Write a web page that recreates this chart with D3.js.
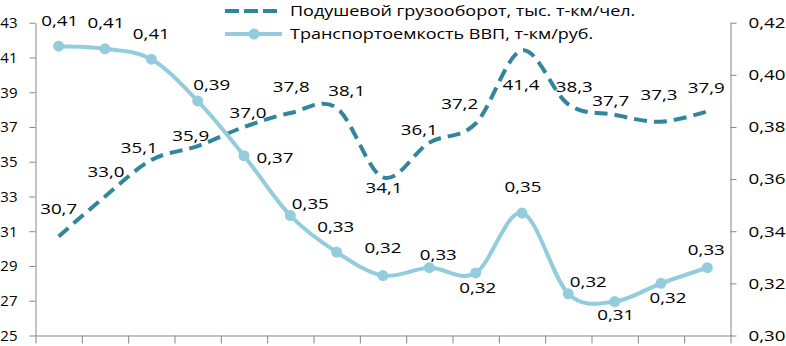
<!DOCTYPE html>
<html>
<head>
<meta charset="utf-8">
<script src="https://cdn.jsdelivr.net/npm/d3@7"></script>
<style>
  body { margin: 0; background: #fff; }
  text { font-family: "Open Sans", sans-serif; fill: #000; }
</style>
</head>
<body>
<div id="chart"></div>
<script>
// chart data
var years = [2000, 2001, 2002, 2003, 2004, 2005, 2006, 2007, 2008, 2009, 2010, 2011, 2012, 2013, 2014];
var freightPerCapita = [30.7, 33.0, 35.1, 35.9, 37.0, 37.8, 38.1, 34.1, 36.1, 37.2, 41.4, 38.3, 37.7, 37.3, 37.9];
var gdpIntensity = [0.411, 0.410, 0.406, 0.390, 0.369, 0.346, 0.332, 0.323, 0.326, 0.324, 0.347, 0.316, 0.313, 0.320, 0.326];
var leftTicks = [25, 27, 29, 31, 33, 35, 37, 39, 41, 43];
var rightTicks = [0.30, 0.32, 0.34, 0.36, 0.38, 0.40, 0.42];
var seriesNames = ["Подушевой грузооборот, тыс. т-км/чел.", "Транспортоемкость ВВП, т-км/руб."];

// where each value label sits relative to its point (label centre, px)
var freightLabelShift = [[0, -27], [1, -24], [-12, -12], [-7, -10], [4, -14], [1, -26], [10, -17], [1, 11],
                         [-10, -13], [-16, -19], [-1, 34], [6, -17], [-4, -14], [-2, -27], [-1, -23]];
var intensityLabelShift = [[1, -25], [1, -26], [0, -25], [14, -16], [31, 2], [20, -12], [-1, -25], [0, -28],
                           [9, -13], [2, 15], [1, -26], [20, -12], [1, 13], [7, 15], [-1, -18]];

var w = 786, h = 346;
var darkColor = "#31859c", lightColor = "#93cddd", axisColor = "#868686";
var stretch = 1.25; // the original text is wider than our fonts

function comma(s) { return s.replace(".", ","); }

var svg = d3.select("#chart").append("svg")
    .attr("width", w)
    .attr("height", h);

var xscale = d3.scaleBand().domain(years).range([35.5, 730.5]).padding(0);
var xedge = d3.scaleLinear().domain([0, years.length]).range([35.5, 730.5]);
var yleft = d3.scaleLinear().domain([25, 43]).range([335.5, 22.7]);
var yright = d3.scaleLinear().domain([0.30, 0.42]).range([335.5, 22.7]);

function cx(d, i) { return xscale(years[i]) + xscale.bandwidth() / 2; }

// axes
svg.append("g")
    .attr("transform", "translate(0,335.5)")
    .call(d3.axisBottom(xedge).tickValues(d3.range(years.length + 1)).tickFormat("").tickSize(8).tickSizeOuter(0));

var leftAxis = svg.append("g")
    .attr("transform", "translate(35.5,0)")
    .call(d3.axisLeft(yleft).tickValues(leftTicks).tickFormat(d3.format("d")).tickSize(6).tickSizeOuter(0));
// no stretch here, so the labels stay inside the left edge
leftAxis.selectAll("text").attr("x", -18);

var rightAxis = svg.append("g")
    .attr("transform", "translate(730.5,0)")
    .call(d3.axisRight(yright).tickValues(rightTicks).tickFormat(function(d) { return comma(d3.format(".2f")(d)); }).tickSize(6).tickSizeOuter(0));
rightAxis.selectAll("text").attr("x", 18 / stretch).attr("transform", "scale(" + stretch + ",1)");

svg.selectAll(".domain, .tick line").attr("stroke", axisColor).attr("stroke-width", 1);
svg.selectAll(".tick text").style("font-size", "15px").style("font-family", "'Open Sans', sans-serif").attr("fill", "#000");

// lines
var freightLine = d3.line()
    .x(cx)
    .y(function(d) { return yleft(d); })
    .curve(d3.curveCardinal.tension(0));

var intensityLine = d3.line()
    .x(cx)
    .y(function(d) { return yright(d); })
    .curve(d3.curveCardinal.tension(0));

svg.append("path")
    .datum(freightPerCapita)
    .attr("d", freightLine)
    .attr("fill", "none")
    .attr("stroke", darkColor)
    .attr("stroke-width", 4)
    .attr("stroke-dasharray", "13,7");

svg.append("path")
    .datum(gdpIntensity)
    .attr("d", intensityLine)
    .attr("fill", "none")
    .attr("stroke", lightColor)
    .attr("stroke-width", 4);

svg.selectAll("circle.marker")
    .data(gdpIntensity)
    .enter()
    .append("circle")
    .attr("class", "marker")
    .attr("cx", cx)
    .attr("cy", function(d) { return yright(d); })
    .attr("r", 5.5)
    .attr("fill", lightColor);

// value labels
function stretchedText(x, y, str, anchor, k) {
    svg.append("text")
        .attr("transform", "translate(" + x + "," + y + ") scale(" + (k || stretch) + ",1)")
        .attr("text-anchor", anchor || "middle")
        .style("font-size", "15px")
        .text(str);
}

freightPerCapita.forEach(function(d, i) {
    var s = freightLabelShift[i];
    stretchedText(cx(d, i) + s[0], yleft(d) + s[1] + 5, comma(d.toFixed(1)));
});
gdpIntensity.forEach(function(d, i) {
    var s = intensityLabelShift[i];
    stretchedText(cx(d, i) + s[0], yright(d) + s[1] + 5, comma(d.toFixed(2)));
});

// legend
var legend = svg.append("g");
legend.append("line")
    .attr("x1", 225).attr("x2", 282).attr("y1", 11).attr("y2", 11)
    .attr("stroke", darkColor).attr("stroke-width", 4).attr("stroke-dasharray", "14,5");
legend.append("line")
    .attr("x1", 225).attr("x2", 282).attr("y1", 34).attr("y2", 34)
    .attr("stroke", lightColor).attr("stroke-width", 4);
legend.append("circle")
    .attr("cx", 254).attr("cy", 34).attr("r", 5.5).attr("fill", lightColor);
stretchedText(290, 16, seriesNames[0], "start", 1.2);
stretchedText(290, 39, seriesNames[1], "start", 1.2);
</script>
</body>
</html>
